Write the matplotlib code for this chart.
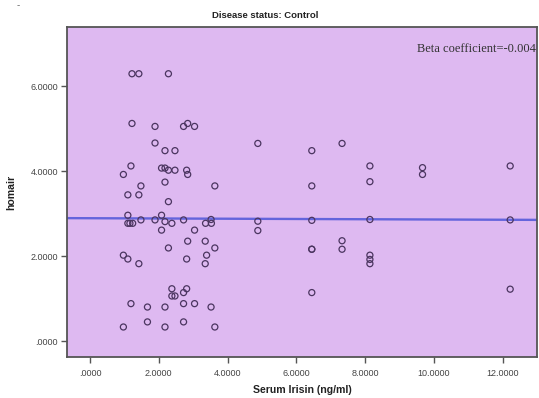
import matplotlib
matplotlib.use("Agg")
import matplotlib.pyplot as plt
from matplotlib.ticker import FuncFormatter
import numpy as np

# Data (Serum Irisin vs homair, control group)
irisin = [0.97, 0.97, 0.97,
          1.10, 1.10, 1.10, 1.10, 1.16,
          1.22, 1.22, 1.19, 1.24, 1.19,
          1.42, 1.42, 1.42,
          1.48, 1.48,
          1.67, 1.67,
          1.89, 1.89, 1.89,
          2.08, 2.08, 2.08,
          2.18, 2.18, 2.18, 2.18, 2.18, 2.18,
          2.28, 2.28, 2.28, 2.28,
          2.38, 2.38, 2.38,
          2.47, 2.47, 2.47,
          2.72, 2.72, 2.72, 2.72, 2.72,
          2.84, 2.81, 2.84, 2.84, 2.81, 2.81,
          3.04, 3.04, 3.04,
          3.36, 3.35, 3.39, 3.35,
          3.52, 3.53, 3.52,
          3.63, 3.63, 3.63,
          4.88, 4.88, 4.88,
          6.45, 6.45, 6.45, 6.45, 6.45, 6.45,
          7.33, 7.33, 7.33,
          8.14, 8.14, 8.14, 8.14, 8.14, 8.14,
          9.67, 9.67,
          12.22, 12.22, 12.22]
homair = [3.92, 2.02, 0.33,
          3.44, 2.96, 2.77, 1.93, 2.77,
          6.29, 5.12, 4.12, 2.77, 0.88,
          6.29, 3.44, 1.82,
          3.65, 2.85,
          0.80, 0.45,
          5.05, 4.66, 2.85,
          4.07, 2.96, 2.61,
          4.48, 4.07, 3.74, 2.81, 0.80, 0.33,
          6.29, 4.02, 3.28, 2.19,
          2.77, 1.23, 1.06,
          4.48, 4.02, 1.06,
          5.05, 2.85, 1.14, 0.88, 0.45,
          5.12, 4.02, 3.92, 2.35, 1.93, 1.23,
          5.05, 2.61, 0.88,
          2.77, 2.35, 2.02, 1.82,
          2.86, 2.77, 0.80,
          3.65, 2.19, 0.33,
          4.65, 2.82, 2.60,
          4.48, 3.65, 2.84, 2.16, 2.16, 1.14,
          4.65, 2.36, 2.16,
          4.12, 3.75, 2.86, 2.02, 1.92, 1.82,
          4.08, 3.92,
          4.12, 2.85, 1.22]

fit_intercept = 2.89
fit_slope = -0.003
beta_label = "Beta coefficient=-0.004"
title = "Disease status: Control"
x_label = "Serum Irisin (ng/ml)"
y_label = "homair"
x_ticks = [0, 2, 4, 6, 8, 10, 12]
y_ticks = [0, 2, 4, 6]

plt.rcParams['font.family'] = ['Liberation Sans', 'DejaVu Sans']

fig = plt.figure(figsize=(5.39, 3.98), dpi=100)
ax = fig.add_axes([67/539, 41/398, 470/539, 330/398])
ax.set_facecolor('#DEB9F1')

ax.scatter(irisin, homair, s=19, facecolors='none', edgecolors='#4b3560',
           linewidths=0.9, zorder=3)
ax.axline((0, fit_intercept), slope=fit_slope, color='#6464dc', lw=1.7, zorder=2)

ax.set_xlim(-0.67, 13.0)
ax.set_ylim(-0.376, 7.39)

def fmt(v, pos):
    s = f"{v:.4f}"
    if s.startswith("0."):
        s = s[1:]
    return s

ax.set_xticks(x_ticks)
ax.set_yticks(y_ticks)
ax.xaxis.set_major_formatter(FuncFormatter(fmt))
ax.yaxis.set_major_formatter(FuncFormatter(fmt))
ax.tick_params(axis='both', direction='out', length=4.5, width=1.0,
               color='#555555', labelsize=6.5, labelcolor='#444444', pad=2)
ax.tick_params(axis='x', pad=4)

for sp in ax.spines.values():
    sp.set_color('#555555')
    sp.set_linewidth(1.3)

ax.set_xlabel(x_label, fontsize=7.6, fontweight='bold', color='#222222', labelpad=5)
ax.set_ylabel(y_label, fontsize=7.6, fontweight='bold', color='#222222', labelpad=10)
fig.text(265/539, 1 - 16/398, title, ha='center', va='center',
         fontsize=6.8, fontweight='bold', color='#222222')
ax.text(0.997, 0.932, beta_label, transform=ax.transAxes, ha='right', va='center',
        fontsize=9, family=['Liberation Serif', 'DejaVu Serif'], color='#333333')
fig.text(18/539, 1 - 5/398, "-", ha='center', va='center', fontsize=7, color='#666666')

fig.savefig("out.png", dpi=100, facecolor='white')
